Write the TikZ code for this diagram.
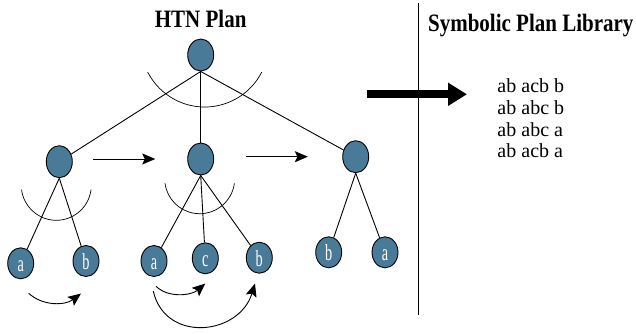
\documentclass[tikz,border=0pt]{standalone}
\usepackage{fontspec}
\setmainfont{Liberation Serif}
\usepackage{xcolor}
\usepackage{graphicx}
\usetikzlibrary{arrows.meta,positioning,shapes.geometric}

\definecolor{taskblue}{RGB}{73,123,153}
\newcommand{\slim}[2]{\scalebox{#1}[1]{#2}}

\begin{document}
\begin{tikzpicture}[
		x=1pt, y=-1pt,
		line width=0.9pt,
		task/.style={ellipse, draw=black, fill=taskblue, inner sep=0pt, minimum width=26pt, minimum height=32pt},
		leaf/.style={task, minimum height=31pt, text=white, font=\fontsize{23}{23}\selectfont, text height=17pt, text depth=0pt},
		title/.style={font=\bfseries\fontsize{25}{25}\selectfont, inner sep=0pt},
		andarc/.style={line width=0.7pt},
		order/.style={-{Stealth[length=13pt, width=11pt, inset=2.5pt]}},
		bigarrow/.style={line width=8pt, -{Triangle[length=19pt, width=22pt]}},
	]
	\useasboundingbox (0,0) rectangle (636,333);

	% task tree
	\node[task] (root) at (200.7,55) {};
	\node[task] (t1) at (59.3,161.7) {};
	\node[task] (t2) at (200.7,159) {};
	\node[task] (t3) at (355.7,156.7) {};

	\node[leaf] (a1) at (20.7,263.3) {\slim{0.62}{a}};
	\node[leaf] (b1) at (86,261) {\slim{0.62}{b}};
	\node[leaf] (a2) at (154,261) {\slim{0.62}{a}};
	\node[leaf] (c2) at (205.3,258.3) {\slim{0.62}{c}};
	\node[leaf] (b2) at (259.3,257.7) {\slim{0.62}{b}};
	\node[leaf] (b3) at (328.7,252.3) {\slim{0.62}{b}};
	\node[leaf] (a3) at (385,252.3) {\slim{0.62}{a}};

	\node[title, above=10.5pt of root] (plan title) {\slim{0.84}{HTN Plan}};

	\draw (root.south) -- (t1);
	\draw (root.south) -- (t2.north);
	\draw (root.south) -- (t3);
	\draw (t1.south) -- (a1);
	\draw (t1.south) -- (b1);
	\draw (t2.south) -- (a2);
	\draw (t2.south) -- (c2);
	\draw (t2.south) -- (b2);
	\draw (t3.south) -- (b3);
	\draw (t3.south) -- (a3);

	% and-arcs under the decomposed tasks
	\draw[andarc] ([shift={(4,-12)}]root.center) ++(27:64) arc[start angle=27, end angle=153, radius=64];
	\draw[andarc] ([shift={(-3,23.6)}]t1.center) ++(7:35) arc[start angle=7, end angle=173, radius=35];
	\draw[andarc] ([shift={(-1,19.7)}]t2.center) ++(7.5:35) arc[start angle=7.5, end angle=172.5, radius=35];

	% ordering constraints
	\draw[order, shorten <=20pt, shorten >=32pt] (t1.east |- t2) -- (t2.west);
	\draw[order, shorten <=32pt, shorten >=34.4pt] (t2.east |- t3) -- (t3.west);
	\draw[order] ([shift={(8,14)}]a1.south) .. controls +(14,13) and +(-16,12) .. ([shift={(-5,16.6)}]b1.south);
	\draw[order] ([shift={(2,9.3)}]a2.south) .. controls +(12,12) and +(-14,12) .. ([shift={(0,9.3)}]c2.south);
	\draw[order] ([shift={(-0.7,14.3)}]a2.south) .. controls +(12,52) and +(-16,52) .. ([shift={(-4.3,9.9)}]b2.south);

	% separator and library
	\coordinate (sep top) at (418.3,3.3);
	\coordinate (sep bottom) at (418.3,315);
	\draw (sep top) -- (sep bottom);

	\coordinate (plan out) at (367,94.3);
	\coordinate (plan in) at (467,94.3);
	\draw[bigarrow] (plan out) -- (plan in);

	\node[title, anchor=base] (library title) at (530.8,31.7) {\slim{0.84}{Symbolic Plan Library}};
	\node[inner sep=0pt, anchor=north, align=left, font=\fontsize{20}{21.7}\selectfont, below=41pt of library title] (library) {ab acb b\\ab abc b\\ab abc a\\ab acb a};
\end{tikzpicture}
\end{document}
